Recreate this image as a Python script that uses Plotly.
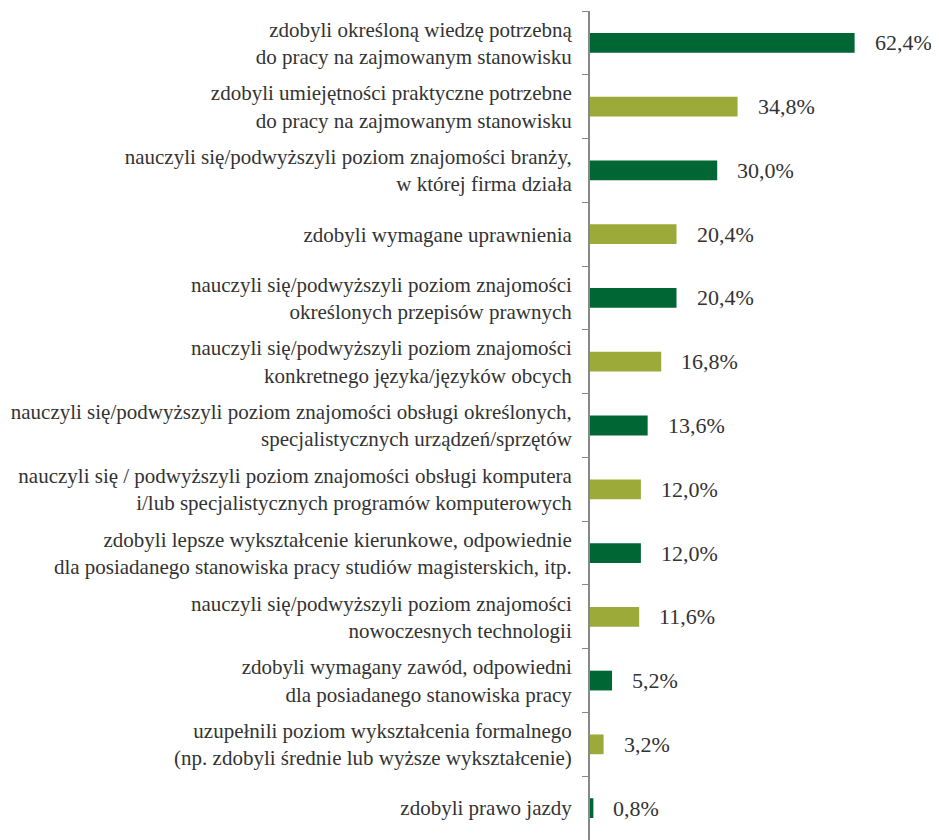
"""Horizontal bar chart: what employees gained from training."""

import plotly.graph_objects as go

categories = [
    "zdobyli określoną wiedzę potrzebną<br>do pracy na zajmowanym stanowisku",
    "zdobyli umiejętności praktyczne potrzebne<br>do pracy na zajmowanym stanowisku",
    "nauczyli się/podwyższyli poziom znajomości branży,<br>w której firma działa",
    "zdobyli wymagane uprawnienia",
    "nauczyli się/podwyższyli poziom znajomości<br>określonych przepisów prawnych",
    "nauczyli się/podwyższyli poziom znajomości<br>konkretnego języka/języków obcych",
    "nauczyli się/podwyższyli poziom znajomości obsługi określonych,<br>specjalistycznych urządzeń/sprzętów",
    "nauczyli się / podwyższyli poziom znajomości obsługi komputera<br>i/lub specjalistycznych programów komputerowych",
    "zdobyli lepsze wykształcenie kierunkowe, odpowiednie<br>dla posiadanego stanowiska pracy studiów magisterskich, itp.",
    "nauczyli się/podwyższyli poziom znajomości<br>nowoczesnych technologii",
    "zdobyli wymagany zawód, odpowiedni<br>dla posiadanego stanowiska pracy",
    "uzupełnili poziom wykształcenia formalnego<br>(np. zdobyli średnie lub wyższe wykształcenie)",
    "zdobyli prawo jazdy",
]
values = [62.4, 34.8, 30.0, 20.4, 20.4, 16.8, 13.6, 12.0, 12.0, 11.6, 5.2, 3.2, 0.8]
value_labels = ["62,4%", "34,8%", "30,0%", "20,4%", "20,4%", "16,8%", "13,6%",
                "12,0%", "12,0%", "11,6%", "5,2%", "3,2%", "0,8%"]

DARK = "#006633"
OLIVE = "#9BAA38"
colors = [DARK if i % 2 == 0 else OLIVE for i in range(len(values))]

FONT = "Liberation Serif, Times New Roman, serif"

fig = go.Figure(
    go.Bar(
        x=values,
        y=categories,
        orientation="h",
        marker=dict(color=colors, line=dict(width=0)),
        hoverinfo="skip",
    )
)

for cat, val, lab in zip(categories, values, value_labels):
    fig.add_annotation(
        x=val, y=cat, text=lab,
        xanchor="left", yanchor="middle", xshift=18,
        showarrow=False,
        font=dict(family=FONT, size=22, color="#333333"),
    )

# the page body keeps its default 8px margin, so the figure is offset by 8px
fig.update_layout(
    width=931,
    height=832,
    margin=dict(l=582, r=0, t=3, b=0, autoexpand=False),
    paper_bgcolor="white",
    plot_bgcolor="white",
    bargap=0.69,
    showlegend=False,
    font=dict(family=FONT, size=21, color="#333333"),
)
fig.update_xaxes(range=[0, 82.3], visible=False)
fig.update_yaxes(
    autorange="reversed",
    type="category",
    automargin=False,
    tickson="boundaries",
    ticks="outside",
    ticklen=6,
    tickcolor="#888888",
    showline=True,
    linecolor="#888888",
    linewidth=2,
    showgrid=False,
    ticklabelstandoff=12,
    tickfont=dict(family=FONT, size=21, color="#333333"),
)

fig.write_html("out.html")
